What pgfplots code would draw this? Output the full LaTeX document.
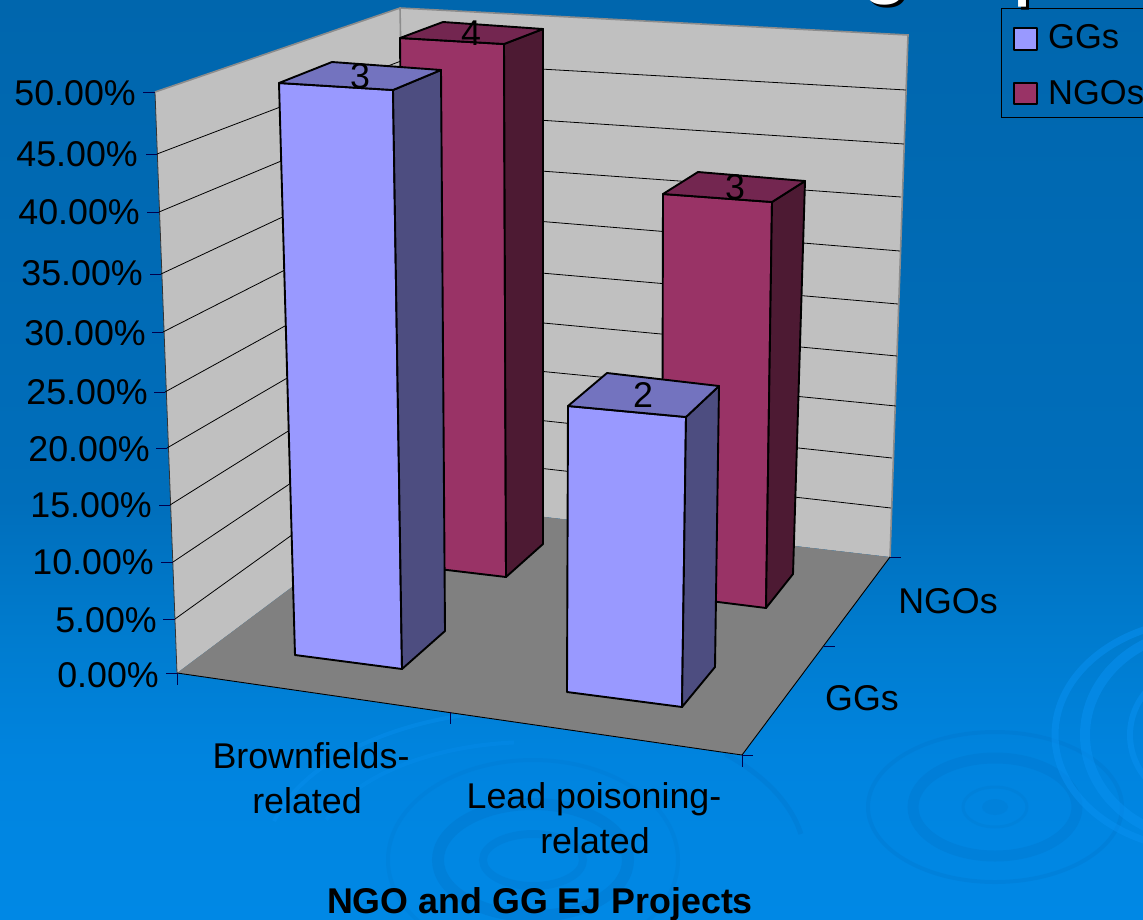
\documentclass[border=0pt]{standalone}
\usepackage{fontspec}
\setmainfont{Liberation Sans}
\usepackage{pgfplots}
\pgfplotsset{compat=1.18}

\definecolor{wallc}{HTML}{C0C0C0}
\definecolor{floorc}{HTML}{808080}
\definecolor{ggfront}{HTML}{9999FF}
\definecolor{ggside}{HTML}{4D4D80}
\definecolor{ggtop}{HTML}{7373BF}
\definecolor{ngofront}{HTML}{993366}
\definecolor{ngoside}{HTML}{4D1A33}
\definecolor{ngotop}{HTML}{732650}
\definecolor{rippledark}{HTML}{0072C6}
\definecolor{ripplelight}{HTML}{0890F0}
\definecolor{bga}{HTML}{0088E5}
\definecolor{bgb}{HTML}{0084DF}
\definecolor{bgc}{HTML}{007CCF}
\definecolor{bgd}{HTML}{006EBB}
\definecolor{bge}{HTML}{0066AD}

% page colour runs from the bottom (25bp) to the top (75bp)
\pgfdeclareverticalshading{slidebg}{100bp}{
  color(0bp)=(bga); color(25bp)=(bga); color(33.6bp)=(bgb);
  color(40.2bp)=(bgc); color(47.8bp)=(bgd); color(75bp)=(bge);
  color(100bp)=(bge)}

\newcommand{\face}[2]{\addplot[draw=black,line width=1.9pt,line join=round,fill=#1] coordinates {#2} --cycle;}
\newcommand{\gridl}[1]{\addplot[black,line width=0.8pt] coordinates {#1};}
\newcommand{\tickl}[1]{\addplot[black!70!blue,line width=0.8pt] coordinates {#1};}
\newcommand{\bigf}{\fontsize{35.8}{40}\selectfont}

\begin{document}
\begin{tikzpicture}
\useasboundingbox (0,0) rectangle (1143pt,919pt);
\clip (0,0) rectangle (1143pt,919pt);
\begin{axis}[
  at={(0,0)},anchor=south west,
  scale only axis,width=1143pt,height=919pt,
  xmin=0,xmax=1143,ymin=0,ymax=919,y dir=reverse,
  hide axis,clip=false,
  every axis plot/.append style={no markers},
]
% background
\addplot[draw=none,shading=slidebg] coordinates {(0,0)(1143,0)(1143,919)(0,919)} --cycle;

% ripples
\begin{scope}[rippledark]
  \draw[line width=8pt,opacity=.25] (533,860) ellipse [x radius=50pt,y radius=26pt];
  \draw[line width=12pt,opacity=.32] (533,860) ellipse [x radius=95pt,y radius=56pt];
  \draw[line width=4pt,opacity=.18] (533,860) ellipse [x radius=145pt,y radius=100pt];
  \draw[line width=5pt,opacity=.28] ([shift={(45:272pt and 150pt)}]axis cs:533,860) arc [start angle=45,end angle=10,x radius=272pt,y radius=150pt];
  \fill[opacity=.2] (995,807) ellipse [x radius=13pt,y radius=8pt];
  \draw[line width=3pt,opacity=.2] (995,807) ellipse [x radius=32pt,y radius=20pt];
  \draw[line width=11pt,opacity=.28] (995,807) ellipse [x radius=82pt,y radius=49pt];
  \draw[line width=4pt,opacity=.25] (995,807) ellipse [x radius=127pt,y radius=75pt];
\end{scope}
\begin{scope}[ripplelight]
  \draw[line width=4pt,opacity=.4] ([shift={(95:268pt and 150pt)}]axis cs:533,860) arc [start angle=95,end angle=165,x radius=268pt,y radius=150pt];
  \draw[line width=4pt,opacity=.3] ([shift={(95:220pt and 118pt)}]axis cs:533,860) arc [start angle=95,end angle=160,x radius=220pt,y radius=118pt];
  \draw[line width=7pt,opacity=.55] (1205,735) ellipse [x radius=150pt,y radius=115pt];
  \draw[line width=10pt,opacity=.55] (1205,735) ellipse [x radius=120pt,y radius=105pt];
  \draw[line width=6pt,opacity=.55] (1205,735) ellipse [x radius=75pt,y radius=70pt];
\end{scope}

% left and back walls, floor
\addplot[draw=none,fill=wallc] coordinates {(155,92)(400,8)(407,501)(177,673)} --cycle;
\addplot[draw=none,fill=wallc] coordinates {(400,8)(908,35)(890,557)(407,501)} --cycle;
\addplot[draw=none,fill=floorc] coordinates {(177,673)(407,501)(890,557)(742,755)} --cycle;
\addplot[black!80,line width=0.8pt] coordinates {(155,92)(177,673)};
\addplot[black!45,line width=1.6pt] coordinates {(155,92)(400,8)(908,35)(890,557)};
\addplot[black!45,line width=1.6pt] coordinates {(400,8)(401,60)};

% gridlines: left wall edge, back corner, right wall edge
\gridl{(157,154)(401,61)(906,90)}
\gridl{(159,212)(401,111)(904,144)}
\gridl{(161,274)(402,161)(901,197)}
\gridl{(163,332)(403,210)(900,251)}
\gridl{(165,392)(403,261)(898,304)}
\gridl{(167,448)(404,310)(897,356)}
\gridl{(170,505)(405,358)(896,406)}
\gridl{(173,562)(406,406)(892,458)}
\gridl{(175,619)(406,453)(891,508)}

% floor edges
\addplot[black,line width=0.9pt] coordinates {(177,673)(742,755)(890,557)};

% axis ticks
\tickl{(143,92)(155,92)}
\tickl{(146,154)(157,154)}
\tickl{(147,212)(159,212)}
\tickl{(150,274)(161,274)}
\tickl{(152,332)(163,332)}
\tickl{(154,392)(165,392)}
\tickl{(156,448)(167,448)}
\tickl{(159,505)(170,505)}
\tickl{(161,562)(173,562)}
\tickl{(163,619)(175,619)}
\tickl{(166,673)(177,673)}
\tickl{(177,673)(177,685)}
\tickl{(450,712)(450,724)}
\tickl{(742,755)(742,767)}
\tickl{(742,755)(753,755)}
\tickl{(824,646)(835,646)}
\tickl{(890,557)(901,557)}

% NGOs bars
\face{ngofront}{(400,38)(504,44)(506,577)(405,565)}
\face{ngoside}{(504,44)(543,29)(543,544)(506,577)}
\face{ngotop}{(400,38)(443,22)(543,29)(504,44)}
\face{ngofront}{(663,194)(772,202)(766,608)(662,595)}
\face{ngoside}{(772,202)(805,181)(793,574)(766,608)}
\face{ngotop}{(663,194)(698,172)(805,181)(772,202)}

% GGs bars
\face{ggfront}{(279,83)(393,90)(402,669)(295,655)}
\face{ggside}{(393,90)(441,70)(445,631)(402,669)}
\face{ggtop}{(279,83)(332,62)(441,70)(393,90)}
\face{ggfront}{(568,406)(686,417)(682,707)(567,692)}
\face{ggside}{(686,417)(719,386)(715,667)(682,707)}
\face{ggtop}{(568,406)(607,373)(719,386)(686,417)}

% data labels
\tikzset{lab/.style={font=\bigf,inner sep=0pt,anchor=base,text=black}}
\node[lab] at (360,88) {3};
\node[lab] at (471,45) {4};
\node[lab] at (735,199) {3};
\node[lab] at (643,407) {2};

% value axis labels
\tikzset{vlab/.style={font=\bigf,inner sep=0pt,anchor=base east,text=black}}
\node[vlab] at (136,105.5) {50.00\%};
\node[vlab] at (138,166.5) {45.00\%};
\node[vlab] at (140,224.5) {40.00\%};
\node[vlab] at (143,285.5) {35.00\%};
\node[vlab] at (146,345.5) {30.00\%};
\node[vlab] at (148,404.5) {25.00\%};
\node[vlab] at (150,461.5) {20.00\%};
\node[vlab] at (152,517.5) {15.00\%};
\node[vlab] at (154,574.5) {10.00\%};
\node[vlab] at (157,632.5) {5.00\%};
\node[vlab] at (159,687.5) {0.00\%};

% category labels
\node[lab] at (311,768) {Brownfields-};
\node[lab] at (307,813) {related};
\node[lab] at (594,808) {Lead poisoning-};
\node[lab] at (595,853) {related};
\node[lab] at (948,613) {NGOs};
\node[lab] at (862,710) {GGs};
\node[lab,font=\bigf\bfseries] at (540,913) {NGO and GG EJ Projects};

% what shows of the slide title above the chart
\tikzset{ttl/.style={font=\fontsize{90}{100}\selectfont,inner sep=0pt,anchor=base west}}
\node[ttl,text=black] at (863,-11) {g};
\node[ttl,text=white] at (860,-14) {g};
\node[ttl,text=black] at (1015,-9) {p};
\node[ttl,text=white] at (1012,-12) {p};

% legend
\addplot[draw=black,line width=0.8pt,fill=none] coordinates {(1001.5,8)(1160,8)(1160,117)(1001.5,117)} --cycle;
\face{ggfront}{(1014,28)(1037,28)(1037,50)(1014,50)}
\face{ngofront}{(1014,83)(1037,83)(1037,104)(1014,104)}
\tikzset{leg/.style={font=\fontsize{34.5}{40}\selectfont,inner sep=0pt,anchor=base west,text=black}}
\node[leg] at (1048,48) {GGs};
\node[leg] at (1048,104) {NGOs};
\end{axis}
\end{tikzpicture}
\end{document}
